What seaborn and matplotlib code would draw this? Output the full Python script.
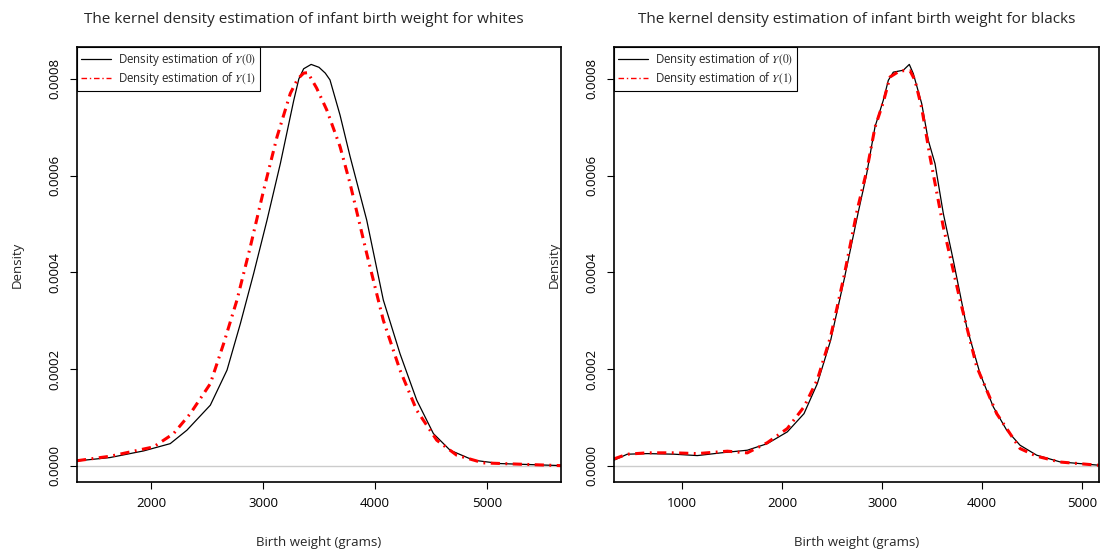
import numpy as np
import pandas as pd
import seaborn as sns
import matplotlib.pyplot as plt
from matplotlib.lines import Line2D

# Values (density in units of 1e-6)
white_y0_x = [1340, 1634, 1935, 2172, 2321, 2530, 2679, 2798, 2917, 3036, 3155, 3274, 3320, 3363,
              3430, 3500, 3556, 3598, 3688, 3777, 3926, 4074, 4223, 4372, 4521, 4670, 4878, 5116, 5660]
white_y0_d = [10.3, 17.2, 31, 46, 73.8, 125.5, 198, 294, 398, 508, 625, 755, 800, 821,
              830, 824, 812, 798, 725, 640, 508, 343, 232, 136, 66.8, 32.4, 11.8, 4.8, 0.6]

white_y1_x = [1340, 1637, 2024, 2202, 2351, 2530, 2649, 2768, 2887, 3006, 3125, 3244, 3310, 3363,
              3400, 3479, 3569, 3688, 3777, 3926, 4074, 4223, 4372, 4551, 4729, 4967, 5660]
white_y1_d = [10.7, 20, 39.3, 66.8, 108, 170, 253, 343, 453, 570, 680, 770, 800, 812,
              813, 781, 736, 660, 584, 439, 301, 198, 115, 53.1, 22.1, 6.2, 0.5]

black_y0_x = [320, 453, 653, 920, 1153, 1387, 1653, 1853, 2053, 2220, 2353, 2487, 2620, 2760,
              2847, 2930, 3013, 3063, 3113, 3213, 3273, 3313, 3397, 3463, 3530, 3613, 3713,
              3847, 3980, 4113, 4247, 4380, 4547, 4780, 5170]
black_y0_d = [11.8, 24.2, 25.4, 24.2, 21.3, 26.9, 32.4, 46, 70.3, 108, 170, 260, 384, 522,
              604, 701, 756, 797, 814, 818, 830, 811, 749, 673, 625, 522, 425,
              287, 191, 122, 73.8, 42.8, 22.1, 8.3, 1.4]

black_y1_x = [320, 453, 653, 920, 1153, 1453, 1653, 1853, 2053, 2220, 2353, 2487, 2620, 2753,
              2847, 2930, 3013, 3080, 3180, 3280, 3330, 3397, 3480, 3613, 3780, 3947, 4147,
              4380, 4547, 4780, 5170]
black_y1_d = [14.5, 24.2, 27, 27, 25.4, 30.4, 26.9, 48, 77.2, 122, 178, 268, 392, 530,
              610, 700, 752, 804, 817, 817, 797, 740, 639, 494, 343, 205, 108,
              35.9, 20, 8, 1.2]

titles = ["The kernel density estimation of infant birth weight for whites",
          "The kernel density estimation of infant birth weight for blacks"]
legend_labels = [r"Density estimation of $Y(0)$", r"Density estimation of $Y(1)$"]
yticks = [0, 0.0002, 0.0004, 0.0006, 0.0008]

sns.set_style("ticks")
plt.rcParams['font.family'] = ['Open Sans', 'DejaVu Sans']
plt.rcParams['mathtext.fontset'] = 'stix'

fig = plt.figure(figsize=(11, 5.54), dpi=100)
ax1 = fig.add_axes([77 / 1100, 72 / 554, 484 / 1100, 435 / 554])
ax2 = fig.add_axes([614 / 1100, 72 / 554, 485 / 1100, 435 / 554])

panels = [
    (ax1, white_y0_x, white_y0_d, white_y1_x, white_y1_d, (1340, 5660), [2000, 3000, 4000, 5000], 0.469),
    (ax2, black_y0_x, black_y0_d, black_y1_x, black_y1_d, (320, 5170), [1000, 2000, 3000, 4000, 5000], 0.5),
]

red_dash = (0, (3, 1.8, 0.6, 1.8))

for i, (ax, x0, d0, x1, d1, xlim, xticks, tx) in enumerate(panels):
    ax.axhline(0, color='#cccccc', lw=1, zorder=0)
    sns.lineplot(x=x0, y=np.array(d0) * 1e-6, ax=ax, color='black', linewidth=0.9)
    sns.lineplot(x=x1, y=np.array(d1) * 1e-6, ax=ax, color='red', linewidth=2.2,
                 linestyle=red_dash)
    ax.set_xlim(*xlim)
    ax.set_ylim(-0.0000333, 0.000866)
    ax.set_xticks(xticks)
    ax.set_xticklabels([str(t) for t in xticks], fontsize=9.5)
    ax.set_yticks(yticks)
    ax.set_yticklabels([f"{t:.4f}" for t in yticks], fontsize=9.5, rotation=90, va='center')
    ax.tick_params(direction='out', length=5, width=0.8, colors='black', pad=6)
    for s in ax.spines.values():
        s.set_visible(True)
        s.set_linewidth(1.2)
        s.set_color('black')
    ax.set_xlabel("Birth weight (grams)", fontsize=9.5)
    ax.set_ylabel("Density", fontsize=9.5)
    ax.xaxis.set_label_coords(0.5, -0.125)
    ax.yaxis.set_label_coords(-0.11, 0.5)
    ax.set_title(titles[i], fontsize=11, x=tx, pad=17)
    handles = [Line2D([], [], color='black', lw=0.9),
               Line2D([], [], color='red', lw=1, linestyle=(0, (4, 2, 1, 2)))]
    leg = ax.legend(handles, legend_labels, loc='upper left', bbox_to_anchor=(0, 1),
                    borderaxespad=0, fontsize=8.3, fancybox=False, framealpha=1,
                    edgecolor='black', handlelength=2.6, handletextpad=0.6,
                    borderpad=0.35, labelspacing=0.15)
    leg.get_frame().set_linewidth(0.8)

fig.savefig("out.png", dpi=100)
